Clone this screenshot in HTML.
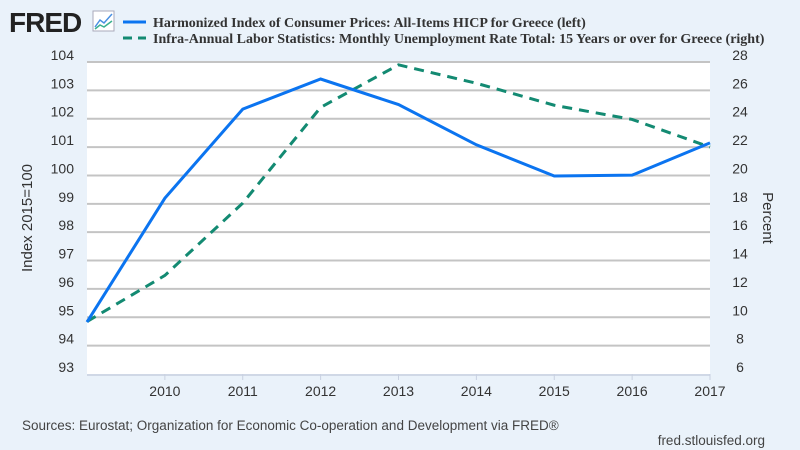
<!DOCTYPE html>
<html><head><meta charset="utf-8"><style>
body{margin:0;background:#eaf2fa;}
svg{display:block;font-family:"Liberation Sans",Arial,sans-serif;}
</style></head><body>
<svg id="chart" width="800" height="450" viewBox="0 0 800 450">
<rect x="0" y="0" width="800" height="450" fill="#eaf2fa"/>
<g>
<text x="9" y="32" font-size="28" font-weight="bold" fill="#222" letter-spacing="-1">FRED</text>
<rect x="93" y="11" width="21" height="20" fill="#fff" stroke="#aab" stroke-width="1"/>
<polyline points="95,27 100,20 104,23 112,14" fill="none" stroke="#4a90e2" stroke-width="1.5"/>
<polyline points="95,29 100,25 104,27 112,21" fill="none" stroke="#3bb08f" stroke-width="1.5"/>
</g>
<g font-family="'Liberation Serif',serif" font-weight="bold" font-size="14" fill="#333">
<g><line x1="123" y1="22" x2="146" y2="22" stroke="#0b74f0" stroke-width="3"/><text x="153" y="27">Harmonized Index of Consumer Prices: All-Items HICP for Greece (left)</text></g>
<g><line x1="123" y1="38" x2="146" y2="38" stroke="#138a72" stroke-width="3" stroke-dasharray="9,6"/><text x="153" y="43">Infra-Annual Labor Statistics: Monthly Unemployment Rate Total: 15 Years or over for Greece (right)</text></g>
</g>
<rect x="87" y="62" width="623" height="312" fill="#fff"/>
<g id="grid"></g><g id="axes"></g><g id="series"></g>
<text transform="translate(32,218) rotate(-90)" text-anchor="middle" font-size="15" fill="#333">Index 2015=100</text>
<text transform="translate(763,218) rotate(90)" text-anchor="middle" font-size="15" fill="#333">Percent</text>
<text x="22" y="430" font-size="13.5" fill="#444">Sources: Eurostat; Organization for Economic Co-operation and Development via FRED®</text>
<text x="765" y="445" text-anchor="end" font-size="13.5" fill="#444">fred.stlouisfed.org</text>
</svg>
<script>
const years=[2009,2010,2011,2012,2013,2014,2015,2016,2017];
const hicp=[94.83,99.2,102.34,103.4,102.5,101.08,99.98,100.01,101.15];
const unemp=[9.7,12.95,18.05,24.8,27.8,26.5,24.95,23.95,22.0];
const leftTicks=[93,94,95,96,97,98,99,100,101,102,103,104];
const rightTicks=[6,8,10,12,14,16,18,20,22,24,26,28];
const xTicks=[2010,2011,2012,2013,2014,2015,2016,2017];
const NS='http://www.w3.org/2000/svg';
const X0=87,X1=710,Y0=374,Y1=62;
const xs=y=>X0+(y-2009)/(2017-2009)*(X1-X0);
const yl=v=>Y0-(v-93)/(104-93)*(Y0-Y1);
const yr=v=>Y0-(v-6)/(28-6)*(Y0-Y1);
function mk(t,a,p){const e=document.createElementNS(NS,t);for(const k in a)e.setAttribute(k,a[k]);p.appendChild(e);return e;}
const grid=document.getElementById('grid'),axes=document.getElementById('axes'),ser=document.getElementById('series');
leftTicks.forEach(v=>{
 if(v>93){const g=mk('line',{x1:X0,x2:X1,y1:yl(v),y2:yl(v),stroke:'#c4c4c4','stroke-width':2},grid);
 
 }
 const t=mk('text',{x:74,y:yl(v)-2,'text-anchor':'end','font-size':14,fill:'#333'},axes);t.textContent=v;
 
 
});
rightTicks.forEach(v=>{
 const t=mk('text',{x:740,y:yr(v)-2,'text-anchor':'middle','font-size':14,fill:'#333'},axes);t.textContent=v;
 
 
});
const xl=mk('line',{x1:X0,x2:X1,y1:Y0+1,y2:Y0+1,stroke:'#c8d0e0','stroke-width':1.5},axes);


xTicks.forEach(y=>{
 const l=mk('line',{x1:xs(y),x2:xs(y),y1:Y0,y2:Y0+6,stroke:'#c8d0e0'},axes);
 
 
 const t=mk('text',{x:xs(y),y:Y0+22,'text-anchor':'middle','font-size':14,fill:'#333'},axes);t.textContent=y;
 
 
});
const p2=mk('polyline',{points:years.map((y,i)=>xs(y)+','+yr(unemp[i])).join(' '),fill:'none',stroke:'#138a72','stroke-width':3,'stroke-dasharray':'10,7'},ser);


const p1=mk('polyline',{points:years.map((y,i)=>xs(y)+','+yl(hicp[i])).join(' '),fill:'none',stroke:'#0b74f0','stroke-width':3},ser);


</script>
</body></html>
